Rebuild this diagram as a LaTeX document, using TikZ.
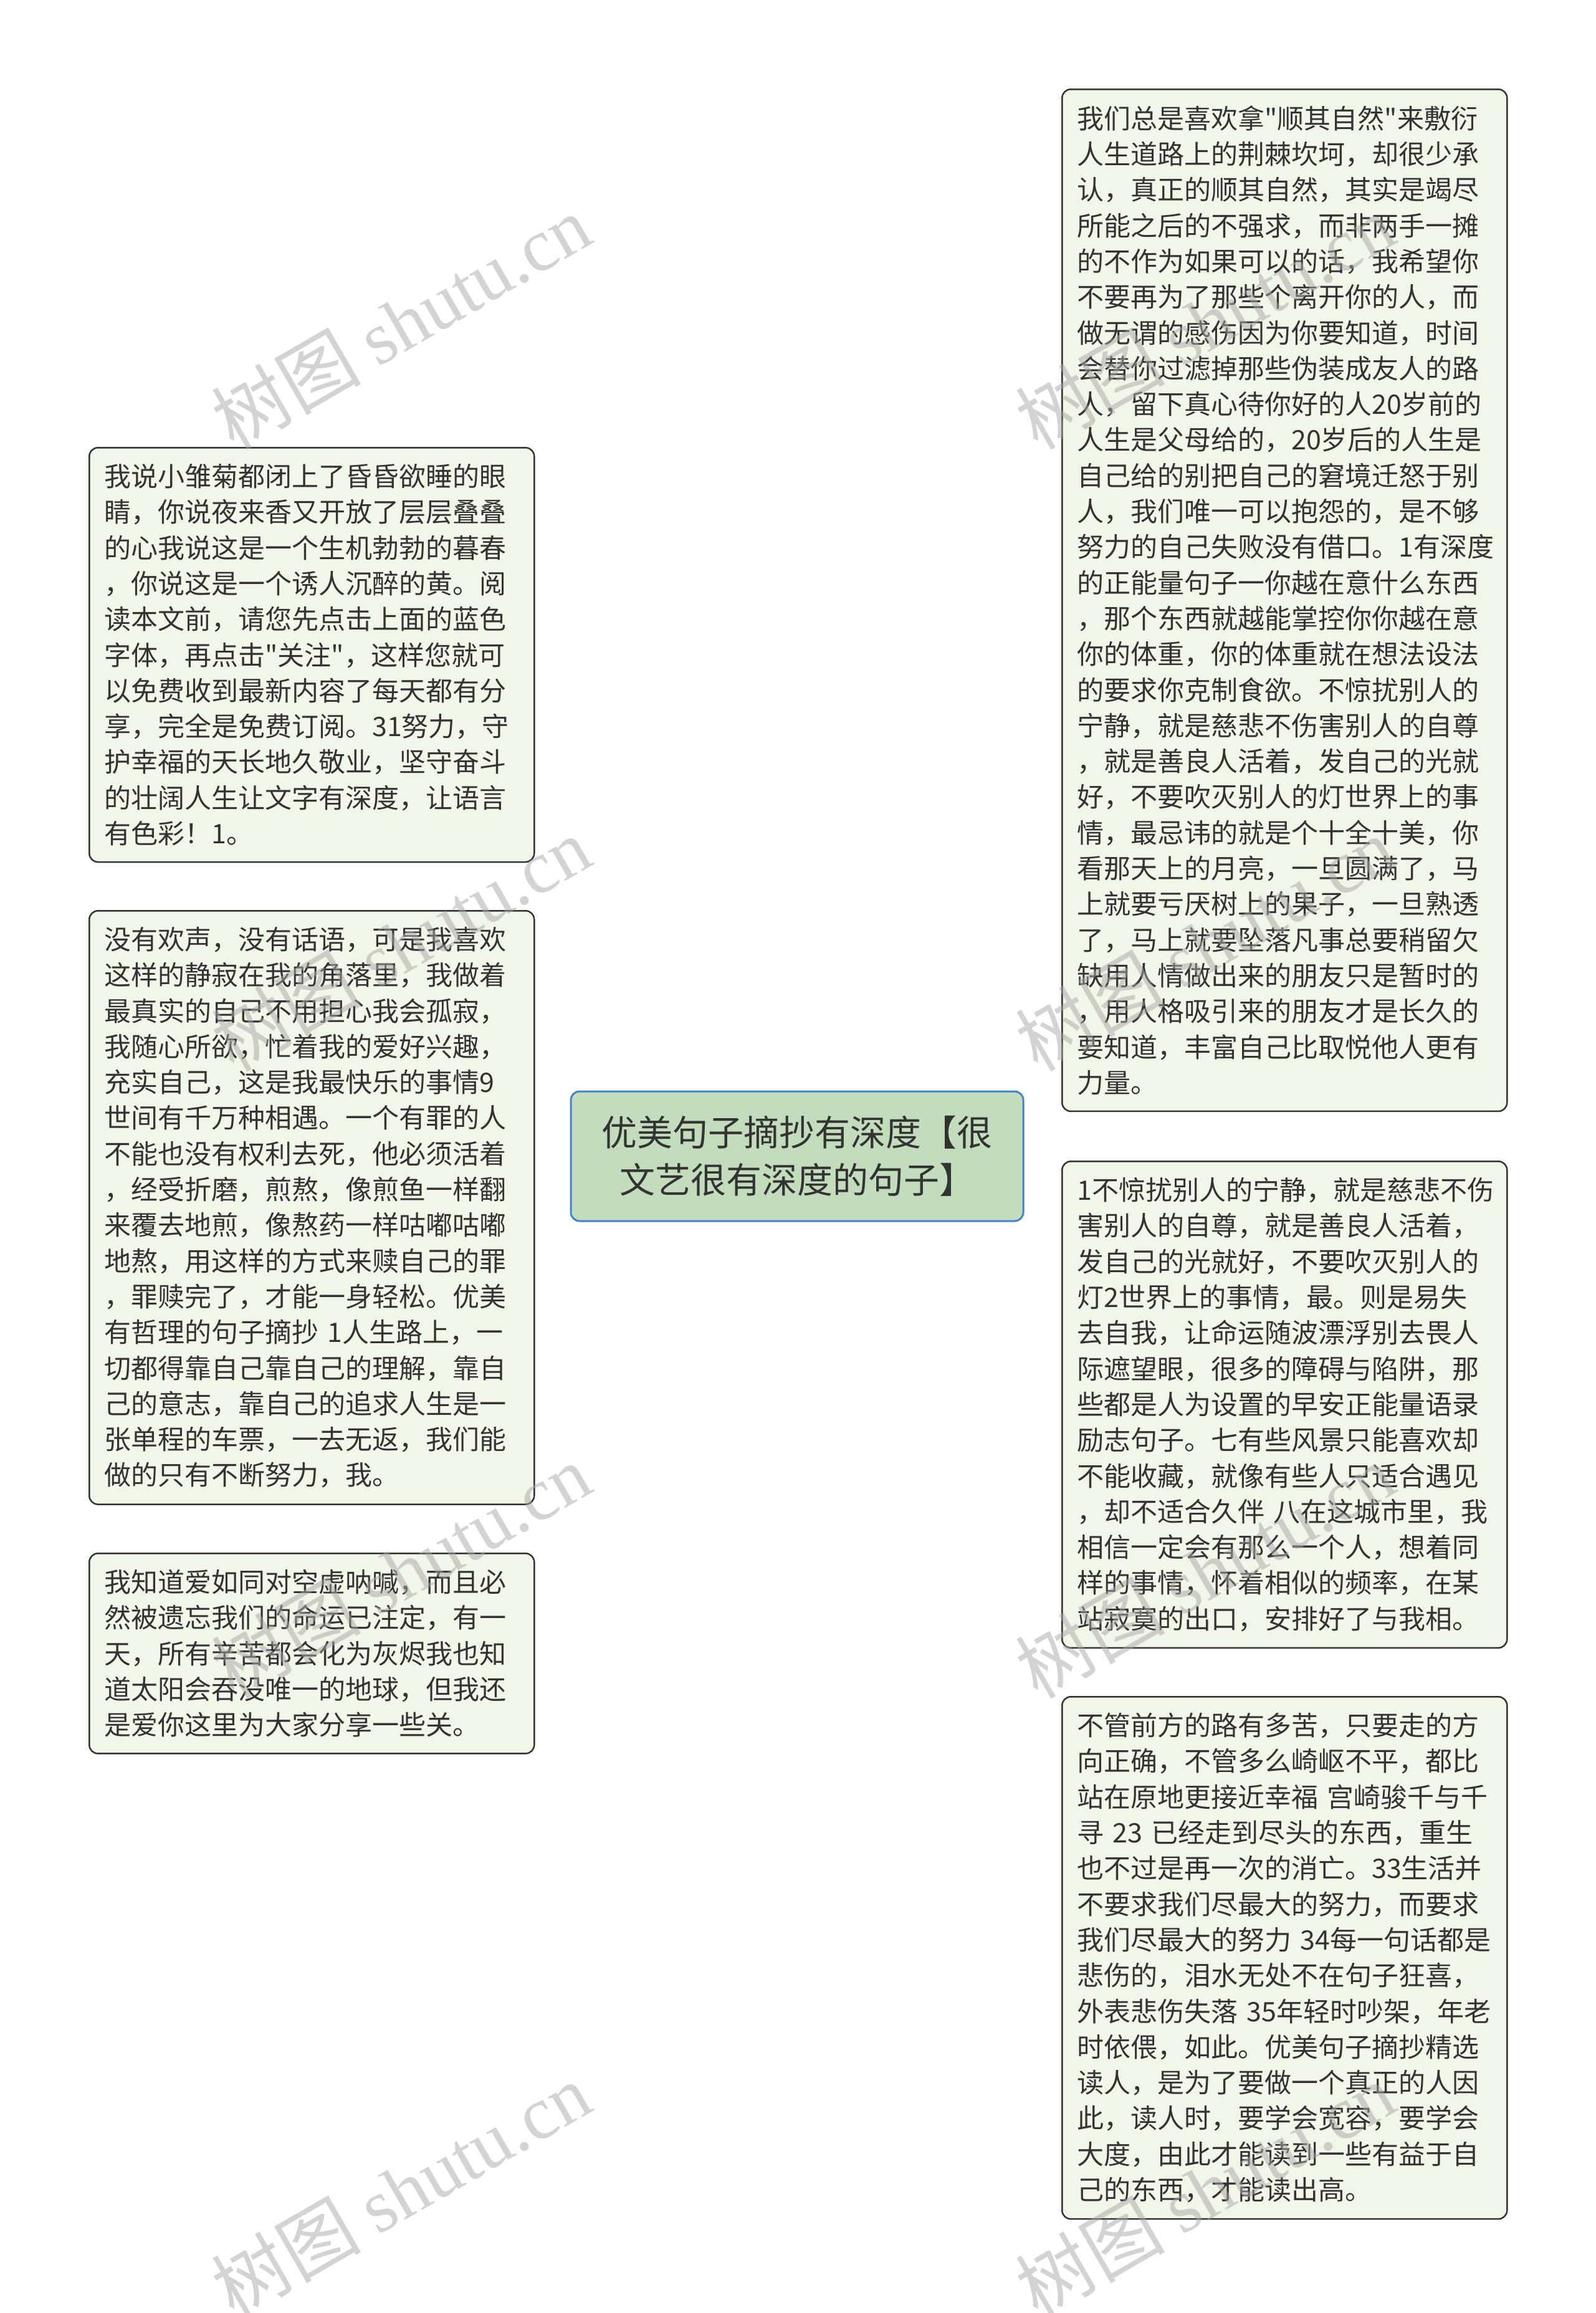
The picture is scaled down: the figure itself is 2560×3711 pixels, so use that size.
\documentclass[tikz,border=0pt]{standalone}
\usepackage{fontspec}
\newfontfamily\cjkf{Noto Sans CJK SC}
\newfontfamily\wmlatin{Liberation Serif}
\usetikzlibrary{calc}
\definecolor{boxfill}{HTML}{F0F6E8}
\definecolor{boxline}{HTML}{333333}
\definecolor{rootfill}{HTML}{C2DCBC}
\definecolor{rootline}{HTML}{3F82D2}
\definecolor{connc}{HTML}{B9D8B2}
\definecolor{txt}{HTML}{333333}
\definecolor{wmc}{HTML}{A8A8A8}
\pgfdeclarelayer{bg}
\pgfsetlayers{bg,main}
\newcommand\branch[2]{\draw[conn] (#1) .. controls ($(#1)!0.6667!(#1 |- #2)$) and ($(#2)!0.6667!(#1 |- #2)$) .. (#2);}
\begin{document}
\begin{tikzpicture}[x=1pt,y=-1pt,
  leaf/.style={draw=boxline, line width=2.5pt, fill=boxfill, rounded corners=14pt, anchor=north west, text width=666pt, inner xsep=24pt, inner ysep=26pt, align=left, font=\cjkf\fontsize{43}{57.3}\selectfont, text=txt},
  root/.style={draw=rootline, line width=3pt, fill=rootfill, rounded corners=14pt, minimum width=726pt, minimum height=208pt, align=center, font=\cjkf\fontsize{57}{75.7}\selectfont, text=txt},
  conn/.style={draw=connc, line width=6pt},
  wm/.style={text=wmc, opacity=0.5, rotate=30, font=\cjkf\fontsize{120}{130}\selectfont, inner sep=0pt}]
\fill[white] (0,0) rectangle (2560,3711);
\useasboundingbox (0,0) rectangle (2560,3711);

\node[root] (c) at (1279,1855) {优美句子摘抄有深度【很\\文艺很有深度的句子】};

\node[leaf] (l1) at (142,717) {我说小雏菊都闭上了昏昏欲睡的眼\\睛，你说夜来香又开放了层层叠叠\\的心我说这是一个生机勃勃的暮春\\，你说这是一个诱人沉醉的黄。阅\\读本文前，请您先点击上面的蓝色\\字体，再点击"关注"，这样您就可\\以免费收到最新内容了每天都有分\\享，完全是免费订阅。31努力，守\\护幸福的天长地久敬业，坚守奋斗\\的壮阔人生让文字有深度，让语言\\有色彩！1。};

\node[leaf] (l2) at (142,1460) {没有欢声，没有话语，可是我喜欢\\这样的静寂在我的角落里，我做着\\最真实的自己不用担心我会孤寂，\\我随心所欲，忙着我的爱好兴趣，\\充实自己，这是我最快乐的事情9\\世间有千万种相遇。一个有罪的人\\不能也没有权利去死，他必须活着\\，经受折磨，煎熬，像煎鱼一样翻\\来覆去地煎，像熬药一样咕嘟咕嘟\\地熬，用这样的方式来赎自己的罪\\，罪赎完了，才能一身轻松。优美\\有哲理的句子摘抄 1人生路上，一\\切都得靠自己靠自己的理解，靠自\\己的意志，靠自己的追求人生是一\\张单程的车票，一去无返，我们能\\做的只有不断努力，我。};

\node[leaf] (l3) at (142,2491) {我知道爱如同对空虚呐喊，而且必\\然被遗忘我们的命运已注定，有一\\天，所有辛苦都会化为灰烬我也知\\道太阳会吞没唯一的地球，但我还\\是爱你这里为大家分享一些关。};

\node[leaf] (r1) at (1703,142) {我们总是喜欢拿"顺其自然"来敷衍\\人生道路上的荆棘坎坷，却很少承\\认，真正的顺其自然，其实是竭尽\\所能之后的不强求，而非两手一摊\\的不作为如果可以的话，我希望你\\不要再为了那些个离开你的人，而\\做无谓的感伤因为你要知道，时间\\会替你过滤掉那些伪装成友人的路\\人，留下真心待你好的人20岁前的\\人生是父母给的，20岁后的人生是\\自己给的别把自己的窘境迁怒于别\\人，我们唯一可以抱怨的，是不够\\努力的自己失败没有借口。1有深度\\的正能量句子一你越在意什么东西\\，那个东西就越能掌控你你越在意\\你的体重，你的体重就在想法设法\\的要求你克制食欲。不惊扰别人的\\宁静，就是慈悲不伤害别人的自尊\\，就是善良人活着，发自己的光就\\好，不要吹灭别人的灯世界上的事\\情，最忌讳的就是个十全十美，你\\看那天上的月亮，一旦圆满了，马\\上就要亏厌树上的果子，一旦熟透\\了，马上就要坠落凡事总要稍留欠\\缺用人情做出来的朋友只是暂时的\\，用人格吸引来的朋友才是长久的\\要知道，丰富自己比取悦他人更有\\力量。};

\node[leaf] (r2) at (1703,1862) {1不惊扰别人的宁静，就是慈悲不伤\\害别人的自尊，就是善良人活着，\\发自己的光就好，不要吹灭别人的\\灯2世界上的事情，最。则是易失\\去自我，让命运随波漂浮别去畏人\\际遮望眼，很多的障碍与陷阱，那\\些都是人为设置的早安正能量语录\\励志句子。七有些风景只能喜欢却\\不能收藏，就像有些人只适合遇见\\，却不适合久伴 八在这城市里，我\\相信一定会有那么一个人，想着同\\样的事情，怀着相似的频率，在某\\站寂寞的出口，安排好了与我相。};

\node[leaf] (r3) at (1703,2721) {不管前方的路有多苦，只要走的方\\向正确，不管多么崎岖不平，都比\\站在原地更接近幸福 宫崎骏千与千\\寻 23 已经走到尽头的东西，重生\\也不过是再一次的消亡。33生活并\\不要求我们尽最大的努力，而要求\\我们尽最大的努力 34每一句话都是\\悲伤的，泪水无处不在句子狂喜，\\外表悲伤失落 35年轻时吵架，年老\\时依偎，如此。优美句子摘抄精选\\读人，是为了要做一个真正的人因\\此，读人时，要学会宽容，要学会\\大度，由此才能读到一些有益于自\\己的东西，才能读出高。};

\begin{pgfonlayer}{bg}
\branch{c.north}{l1.east}
\branch{c.north}{r1.west}
\draw[conn] (l2.east) -- (l2.east -| c.west);
\branch{c.south}{l3.east}
\branch{c.south}{r2.west}
\branch{c.south}{r3.west}
\end{pgfonlayer}

\node[wm] (w1) at (643,516) {树图 {\wmlatin shutu.cn}};
\node[wm] (w2) at (643,1514) {树图 {\wmlatin shutu.cn}};
\node[wm] (w3) at (643,2520) {树图 {\wmlatin shutu.cn}};
\node[wm] (w4) at (643,3513) {树图 {\wmlatin shutu.cn}};
\node[wm] (w5) at (1933,516) {树图 {\wmlatin shutu.cn}};
\node[wm] (w6) at (1933,1514) {树图 {\wmlatin shutu.cn}};
\node[wm] (w7) at (1933,2520) {树图 {\wmlatin shutu.cn}};
\node[wm] (w8) at (1933,3513) {树图 {\wmlatin shutu.cn}};
\end{tikzpicture}
\end{document}
